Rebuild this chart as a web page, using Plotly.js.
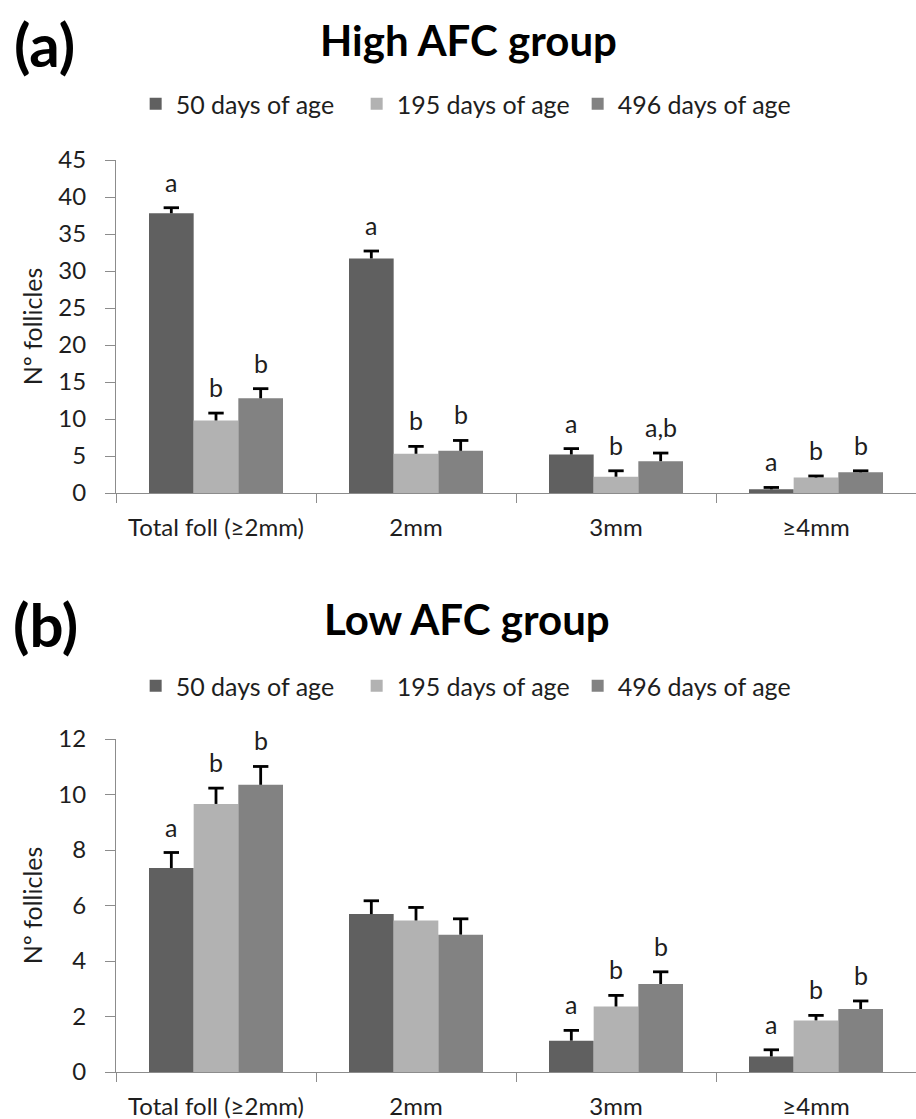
<!DOCTYPE html>
<html><head><meta charset="utf-8">
<script src="https://cdn.plot.ly/plotly-3.0.1.min.js"></script>
<style>html,body{margin:0;padding:0;background:#fff}#chart{width:916px;height:1119px}</style>
</head><body><div id="chart"></div>
<script>
const categories = ['Total foll (≥2mm)', '2mm', '3mm', '≥4mm'];
const seriesNames = ['50 days of age', '195 days of age', '496 days of age'];

// (a) High AFC group
const highD50 = [37.8, 31.7, 5.2, 0.5];
const highD195 = [9.8, 5.3, 2.2, 2.1];
const highD496 = [12.8, 5.7, 4.3, 2.8];
const highErr50 = [0.75, 1.0, 0.8, 0.25];
const highErr195 = [1.0, 1.0, 0.8, 0.2];
const highErr496 = [1.3, 1.4, 1.1, 0.2];
const highLetters50 = ['a', 'a', 'a', 'a'];
const highLetters195 = ['b', 'b', 'b', 'b'];
const highLetters496 = ['b', 'b', 'a,b', 'b'];

// (b) Low AFC group
const lowD50 = [7.35, 5.69, 1.13, 0.56];
const lowD195 = [9.66, 5.46, 2.36, 1.86];
const lowD496 = [10.35, 4.95, 3.17, 2.27];
const lowErr50 = [0.56, 0.48, 0.37, 0.24];
const lowErr195 = [0.57, 0.47, 0.40, 0.18];
const lowErr496 = [0.66, 0.57, 0.44, 0.29];
const lowLetters50 = ['a', '', 'a', 'a'];
const lowLetters195 = ['b', '', 'b', 'b'];
const lowLetters496 = ['b', '', 'b', 'b'];

const colors = ['#606060', '#b2b2b2', '#828282'];
const FONT = 'Lato, "Open Sans", "DejaVu Sans", sans-serif';
const TXT = '#1e1e1e';
const W = 916, H = 1119;
const plotLeft = 116, plotRight = 916;
const bargap = 0.33;
const barFrac = (1 - bargap) / 3;

function panelTraces(vals, errs, xa, ya, capXa, leg) {
  const out = [];
  vals.forEach((v, i) => {
    out.push({
      type: 'bar', x: categories, y: v, name: seriesNames[i],
      xaxis: xa, yaxis: ya, legend: leg,
      marker: {color: colors[i], line: {width: 0}},
      error_y: {type: 'data', array: errs[i], arrayminus: v.map(() => 0), symmetric: false,
                visible: true, color: '#000', thickness: 2.8, width: 0},
      hoverinfo: 'y'
    });
  });
  // caps of the (plus-only) error bars
  vals.forEach((v, i) => {
    out.push({
      type: 'scatter', mode: 'markers', showlegend: false, hoverinfo: 'skip',
      x: categories.map((_, c) => c + (i - 1) * barFrac),
      y: v.map((val, c) => val + errs[i][c]),
      xaxis: capXa, yaxis: ya,
      marker: {symbol: 'line-ew-open', size: 11, color: '#000', line: {width: 2.8, color: '#000'}}
    });
  });
  return out;
}

const traces = [
  ...panelTraces([highD50, highD195, highD496], [highErr50, highErr195, highErr496], 'x', 'y', 'x3', 'legend'),
  ...panelTraces([lowD50, lowD195, lowD496], [lowErr50, lowErr195, lowErr496], 'x2', 'y2', 'x4', 'legend2')
];

const catW = (plotRight - plotLeft) / categories.length;
const barW = catW * barFrac;
const annotations = [];
function addLetters(vals, errs, letters, xr, yr) {
  vals.forEach((v, s) => {
    v.forEach((val, c) => {
      const t = letters[s][c];
      if (!t) return;
      annotations.push({
        xref: xr, yref: yr, x: categories[c], y: val + errs[s][c],
        xshift: (s - 1) * barW, yshift: 9, yanchor: 'bottom', showarrow: false,
        text: t, font: {family: FONT, size: 25, color: TXT}
      });
    });
  });
}
addLetters([highD50, highD195, highD496], [highErr50, highErr195, highErr496],
           [highLetters50, highLetters195, highLetters496], 'x', 'y');
addLetters([lowD50, lowD195, lowD496], [lowErr50, lowErr195, lowErr496],
           [lowLetters50, lowLetters195, lowLetters496], 'x2', 'y2');

function py(p) { return 1 - p / H; }
annotations.push(
  {xref: 'paper', yref: 'paper', x: 44 / W, y: py(44), xanchor: 'center', yanchor: 'middle',
   showarrow: false, text: '<b>(a)</b>', font: {family: FONT, size: 60, color: '#000'}},
  {xref: 'paper', yref: 'paper', x: 469 / W, y: py(40), xanchor: 'center', yanchor: 'middle',
   showarrow: false, text: '<b>High AFC group</b>', font: {family: FONT, size: 42, color: '#000'}},
  {xref: 'paper', yref: 'paper', x: 45 / W, y: py(624), xanchor: 'center', yanchor: 'middle',
   showarrow: false, text: '<b>(b)</b>', font: {family: FONT, size: 60, color: '#000'}},
  {xref: 'paper', yref: 'paper', x: 467 / W, y: py(619), xanchor: 'center', yanchor: 'middle',
   showarrow: false, text: '<b>Low AFC group</b>', font: {family: FONT, size: 42, color: '#000'}}
);

function xAxis(anchor) {
  return {
    domain: [plotLeft / W, plotRight / W], anchor: anchor, type: 'category',
    showline: true, linecolor: '#8c8c8c', linewidth: 1,
    ticks: 'outside', tickson: 'boundaries', ticklen: 9, tickcolor: '#8c8c8c',
    tickfont: {family: FONT, size: 24, color: TXT}, ticklabelstandoff: 13,
    showgrid: false, zeroline: false, automargin: false, fixedrange: true
  };
}
function capAxis(over, anchor) {
  return {overlaying: over, anchor: anchor, range: [-0.5, categories.length - 0.5],
          visible: false, fixedrange: true, showgrid: false, zeroline: false};
}
function yAxis(anchor, top, bottom, max, dtick) {
  return {
    domain: [py(bottom), py(top)], anchor: anchor, range: [0, max], dtick: dtick,
    showline: true, linecolor: '#8c8c8c', linewidth: 1,
    ticks: 'outside', ticklen: 10, tickcolor: '#8c8c8c',
    tickfont: {family: FONT, size: 24, color: TXT}, ticklabelstandoff: 14,
    title: {text: 'Nº follicles', font: {family: FONT, size: 25, color: TXT}, standoff: 8},
    showgrid: false, zeroline: false, automargin: false, fixedrange: true
  };
}

const legendBase = {
  orientation: 'h', x: 0.5, xanchor: 'center', yanchor: 'middle',
  font: {family: FONT, size: 25, color: TXT}, itemwidth: 30, entrywidth: 176, entrywidthmode: 'pixels',
  bgcolor: 'rgba(0,0,0,0)', traceorder: 'normal'
};

const layout = {
  width: W, height: H, margin: {l: 0, r: 0, t: 0, b: 0},
  paper_bgcolor: '#fff', plot_bgcolor: '#fff',
  barmode: 'group', bargap: bargap, bargroupgap: 0,
  showlegend: true,
  legend: Object.assign({}, legendBase, {x: 0.51, y: py(104)}),
  legend2: Object.assign({}, legendBase, {x: 0.51, y: py(686)}),
  xaxis: xAxis('y'),
  yaxis: yAxis('x', 160, 493, 45, 5),
  xaxis2: xAxis('y2'),
  yaxis2: yAxis('x2', 739, 1072, 12, 2),
  xaxis3: capAxis('x', 'y'),
  xaxis4: capAxis('x2', 'y2'),
  annotations: annotations,
  font: {family: FONT}
};

Plotly.newPlot('chart', traces, layout, {displayModeBar: false, staticPlot: true});
</script>
</body></html>
